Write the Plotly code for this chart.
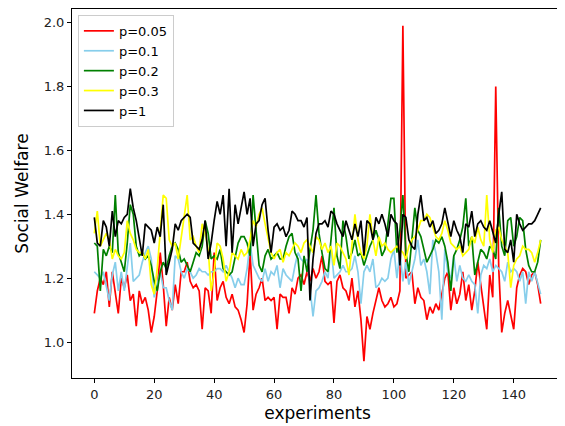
import plotly.graph_objects as go

experiments = list(range(150))

p005 = [
    1.09, 1.16, 1.20, 1.18, 1.22, 1.11, 1.22, 1.16, 1.09, 1.20,
    1.17, 1.21, 1.13, 1.15, 1.05, 1.16, 1.12, 1.14, 1.10, 1.03,
    1.08, 1.16, 1.28, 1.18, 1.05, 1.14, 1.10, 1.18, 1.12, 1.22,
    1.22, 1.25, 1.19, 1.17, 1.18, 1.16, 1.04, 1.17, 1.16, 1.09,
    1.28, 1.13, 1.17, 1.19, 1.14, 1.12, 1.15, 1.11, 1.10, 1.07,
    1.03, 1.12, 1.28, 1.10, 1.15, 1.17, 1.20, 1.13, 1.14, 1.13,
    1.14, 1.04, 1.15, 1.14, 1.14, 1.09, 1.17, 1.15, 1.20, 1.21,
    1.18, 1.22, 1.19, 1.23, 1.20, 1.22, 1.27, 1.19, 1.18, 1.19,
    1.06, 1.19, 1.21, 1.17, 1.16, 1.13, 1.20, 1.11, 1.16, 1.07,
    0.94, 1.08, 1.04, 1.09, 1.13, 1.17, 1.13, 1.11, 1.12, 1.14,
    1.11, 1.12, 1.16, 1.99, 1.20, 1.21, 1.22, 1.12, 1.17, 1.14,
    1.13, 1.07, 1.11, 1.09, 1.12, 1.10, 1.15, 1.20, 1.22, 1.10,
    1.17, 1.12, 1.15, 1.22, 1.13, 1.18, 1.10, 1.16, 1.25, 1.18,
    1.11, 1.04, 1.21, 1.14, 1.80, 1.23, 1.03, 1.09, 1.13, 1.08,
    1.04, 1.17, 1.21, 1.23, 1.22, 1.18, 1.21, 1.22, 1.18, 1.12,
]

p01 = [
    1.22, 1.21, 1.20, 1.22, 1.18, 1.13, 1.21, 1.25, 1.16, 1.22,
    1.16, 1.24, 1.31, 1.19, 1.20, 1.21, 1.25, 1.28, 1.30, 1.26,
    1.14, 1.18, 1.22, 1.17, 1.17, 1.13, 1.10, 1.27, 1.26, 1.22,
    1.20, 1.23, 1.22, 1.20, 1.21, 1.23, 1.22, 1.22, 1.21, 1.22,
    1.22, 1.23, 1.23, 1.22, 1.24, 1.22, 1.20, 1.17, 1.20, 1.18,
    1.18, 1.23, 1.31, 1.24, 1.22, 1.20, 1.19, 1.23, 1.19, 1.22,
    1.21, 1.24, 1.17, 1.23, 1.21, 1.20, 1.19, 1.24, 1.28, 1.26,
    1.25, 1.26, 1.18, 1.08, 1.16, 1.17, 1.19, 1.22, 1.20, 1.30,
    1.20, 1.21, 1.22, 1.24, 1.22, 1.22, 1.23, 1.27, 1.22, 1.12,
    1.22, 1.24, 1.22, 1.26, 1.17, 1.18, 1.20, 1.19, 1.20, 1.26,
    1.29, 1.20, 1.28, 1.19, 1.25, 1.18, 1.22, 1.26, 1.32, 1.24,
    1.26, 1.22, 1.15, 1.32, 1.28, 1.22, 1.07, 1.29, 1.22, 1.20,
    1.27, 1.19, 1.24, 1.20, 1.19, 1.21, 1.19, 1.18, 1.09, 1.21,
    1.24, 1.23, 1.26, 1.22, 1.24, 1.23, 1.22, 1.19, 1.25, 1.22,
    1.23, 1.22, 1.19, 1.22, 1.12, 1.22, 1.19, 1.22, 1.18, 1.15,
]

p02 = [
    1.31, 1.30, 1.16, 1.29, 1.27, 1.30, 1.28, 1.46, 1.28, 1.25,
    1.22, 1.31, 1.43, 1.40, 1.30, 1.27, 1.28, 1.26, 1.27, 1.24,
    1.19, 1.16, 1.22, 1.25, 1.23, 1.27, 1.30, 1.31, 1.29, 1.25,
    1.26, 1.24, 1.22, 1.25, 1.28, 1.27, 1.30, 1.38, 1.34, 1.26,
    1.27, 1.26, 1.29, 1.23, 1.22, 1.21, 1.22, 1.26, 1.31, 1.33,
    1.33, 1.31, 1.27, 1.46, 1.34, 1.24, 1.22, 1.27, 1.29, 1.26,
    1.27, 1.28, 1.26, 1.26, 1.30, 1.33, 1.34, 1.28, 1.26, 1.16,
    1.27, 1.22, 1.29, 1.35, 1.46, 1.34, 1.28, 1.23, 1.22, 1.32,
    1.42, 1.27, 1.23, 1.38, 1.33, 1.26, 1.28, 1.32, 1.27, 1.28,
    1.24, 1.27, 1.30, 1.32, 1.35, 1.32, 1.27, 1.29, 1.37, 1.45,
    1.45, 1.28, 1.35, 1.46, 1.28, 1.22, 1.32, 1.42, 1.35, 1.33,
    1.29, 1.25, 1.27, 1.29, 1.32, 1.31, 1.33, 1.30, 1.25, 1.16,
    1.27, 1.29, 1.32, 1.36, 1.45, 1.30, 1.33, 1.21, 1.25, 1.29,
    1.28, 1.26, 1.30, 1.29, 1.26, 1.42, 1.30, 1.27, 1.38, 1.39,
    1.30, 1.33, 1.39, 1.38, 1.29, 1.24, 1.22, 1.22, 1.25, 1.32,
]

p03 = [
    1.34, 1.41, 1.30, 1.32, 1.34, 1.32, 1.26, 1.29, 1.27, 1.26,
    1.28, 1.38, 1.34, 1.32, 1.29, 1.28, 1.28, 1.26, 1.29, 1.18,
    1.15, 1.23, 1.36, 1.46, 1.45, 1.32, 1.30, 1.31, 1.26, 1.33,
    1.40, 1.46, 1.32, 1.33, 1.30, 1.28, 1.37, 1.34, 1.29, 1.16,
    1.22, 1.31, 1.30, 1.26, 1.19, 1.22, 1.28, 1.27, 1.26, 1.29,
    1.27, 1.28, 1.32, 1.38, 1.36, 1.40, 1.42, 1.37, 1.32, 1.28,
    1.26, 1.28, 1.29, 1.25, 1.28, 1.27, 1.29, 1.31, 1.30, 1.28,
    1.31, 1.32, 1.30, 1.28, 1.33, 1.32, 1.29, 1.31, 1.28, 1.30,
    1.24, 1.31, 1.30, 1.28, 1.26, 1.21, 1.31, 1.40, 1.32, 1.28,
    1.26, 1.30, 1.40, 1.32, 1.27, 1.33, 1.30, 1.31, 1.29, 1.28,
    1.29, 1.30, 1.29, 1.28, 1.26, 1.30, 1.32, 1.33, 1.35, 1.38,
    1.38, 1.40, 1.39, 1.36, 1.33, 1.32, 1.34, 1.38, 1.35, 1.31,
    1.30, 1.29, 1.30, 1.27, 1.28, 1.29, 1.33, 1.31, 1.36, 1.32,
    1.30, 1.46, 1.32, 1.28, 1.35, 1.36, 1.32, 1.30, 1.28, 1.17,
    1.24, 1.26, 1.27, 1.30, 1.29, 1.29, 1.28, 1.25, 1.28, 1.32,
]

p1 = [
    1.39, 1.31, 1.30, 1.38, 1.36, 1.30, 1.41, 1.33, 1.38, 1.37,
    1.39, 1.40, 1.48, 1.42, 1.38, 1.32, 1.27, 1.37, 1.36, 1.35,
    1.31, 1.36, 1.33, 1.43, 1.21, 1.25, 1.29, 1.37, 1.35, 1.38,
    1.39, 1.40, 1.39, 1.31, 1.30, 1.29, 1.32, 1.38, 1.26, 1.31,
    1.38, 1.44, 1.40, 1.46, 1.30, 1.48, 1.28, 1.43, 1.37, 1.42,
    1.47, 1.40, 1.45, 1.30, 1.37, 1.38, 1.43, 1.45, 1.35, 1.28,
    1.36, 1.37, 1.35, 1.36, 1.33, 1.35, 1.41, 1.40, 1.38, 1.38,
    1.36, 1.39, 1.13, 1.26, 1.34, 1.37, 1.37, 1.38, 1.36, 1.41,
    1.40, 1.37, 1.35, 1.33, 1.38, 1.35, 1.32, 1.37, 1.33, 1.38,
    1.27, 1.38, 1.37, 1.32, 1.39, 1.37, 1.40, 1.37, 1.33, 1.40,
    1.38, 1.37, 1.24, 1.40, 1.39, 1.32, 1.30, 1.29, 1.40, 1.46,
    1.38, 1.39, 1.36, 1.38, 1.34, 1.35, 1.37, 1.42, 1.38, 1.33,
    1.38, 1.35, 1.33, 1.28, 1.37, 1.36, 1.41, 1.33, 1.37, 1.38,
    1.36, 1.35, 1.38, 1.34, 1.31, 1.40, 1.47, 1.29, 1.28, 1.32,
    1.25, 1.40, 1.37, 1.35, 1.36, 1.37, 1.37, 1.38, 1.40, 1.42,
]

series = [
    ("p=0.05", p005, "red"),
    ("p=0.1", p01, "skyblue"),
    ("p=0.2", p02, "green"),
    ("p=0.3", p03, "yellow"),
    ("p=1", p1, "black"),
]

x_ticks = [0, 20, 40, 60, 80, 100, 120, 140]
y_ticks = [1.0, 1.2, 1.4, 1.6, 1.8, 2.0]

fig = go.Figure()
for name, vals, color in series:
    fig.add_trace(go.Scatter(x=experiments[:len(vals)], y=vals, mode="lines", name=name,
                             line=dict(color=color, width=1.7)))

axis_common = dict(showline=True, linecolor="black", linewidth=1, mirror=True,
                   ticks="outside", ticklen=4, tickcolor="black", showgrid=False,
                   zeroline=False, automargin=False,
                   tickfont=dict(family="DejaVu Sans", size=13, color="#222"))

# The page body adds an 8px offset, so the figure is sized to fit the window.
fig.update_layout(
    width=557, height=418,
    margin=dict(l=64, r=2, t=1, b=48),
    paper_bgcolor="white", plot_bgcolor="white",
    font=dict(family="DejaVu Sans", color="black"),
    xaxis=dict(range=[-7.45, 156.45], tickvals=x_ticks,
               title=dict(text="experiments", font=dict(size=17), standoff=6), **axis_common),
    yaxis=dict(range=[0.8875, 2.0425], tickvals=y_ticks, tickformat=".1f",
               title=dict(text="Social Welfare", font=dict(size=17), standoff=10), **axis_common),
    legend=dict(x=0.012, y=0.984, xanchor="left", yanchor="top",
                bgcolor="rgba(255,255,255,0.8)", bordercolor="#cccccc", borderwidth=1,
                font=dict(family="DejaVu Sans", size=13), itemwidth=30, tracegroupgap=0),
    showlegend=True,
)

fig.write_html("out.html")
